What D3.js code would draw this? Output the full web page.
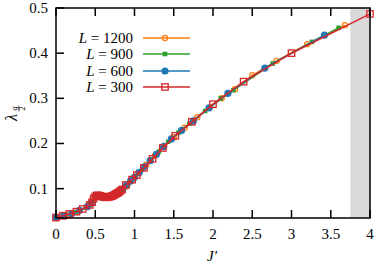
<!DOCTYPE html>
<html>
  <head>
    <script src="https://d3js.org/d3.v7.min.js"></script>
    <style>
      body { margin: 0; background: #fff; }
      text { font-family: "Liberation Serif", "DejaVu Serif", serif; fill: #000; }
    </style>
  </head>
  <body>
  <script>
  var width = 374, height = 265;
  var margin = {left: 56, right: 4, top: 8, bottom: 47};

  // series
  var j1200 = [0, 0.15, 0.3, 0.42, 0.5, 0.56, 0.64, 0.72, 0.8, 0.88, 0.96, 1.05, 1.15, 1.26, 1.38, 1.5, 1.64, 1.8, 1.96, 2.11, 2.28, 2.5, 2.81, 3.2, 3.68];
  var l1200 = [0.036, 0.042, 0.052, 0.063, 0.083, 0.085, 0.081, 0.084, 0.092, 0.104, 0.119, 0.134, 0.153, 0.173, 0.195, 0.214, 0.235, 0.258, 0.280, 0.300, 0.320, 0.351, 0.383, 0.420, 0.462];
  var j900 = [0, 0.12, 0.25, 0.38, 0.47, 0.53, 0.6, 0.68, 0.76, 0.84, 0.92, 1.01, 1.1, 1.2, 1.31, 1.43, 1.56, 1.7, 1.9, 2.1, 2.26, 2.76, 3.26, 3.6];
  var l900 = [0.036, 0.041, 0.048, 0.058, 0.072, 0.085, 0.082, 0.082, 0.088, 0.098, 0.111, 0.127, 0.143, 0.162, 0.182, 0.204, 0.224, 0.244, 0.272, 0.300, 0.318, 0.377, 0.425, 0.456];
  var j600 = [0, 0.1, 0.2, 0.3, 0.4, 0.45, 0.5, 0.55, 0.6, 0.65, 0.7, 0.75, 0.8, 0.85, 0.9, 0.95, 1.0, 1.06, 1.13, 1.2, 1.28, 1.37, 1.47, 1.6, 1.75, 1.95, 2.19, 2.66, 3.42];
  var l600 = [0.036, 0.040, 0.045, 0.052, 0.060, 0.068, 0.083, 0.085, 0.082, 0.081, 0.083, 0.087, 0.092, 0.099, 0.108, 0.117, 0.125, 0.136, 0.149, 0.162, 0.176, 0.193, 0.210, 0.229, 0.250, 0.279, 0.311, 0.367, 0.440];
  var j300 = [0, 0.09, 0.17, 0.26, 0.34, 0.43, 0.46, 0.48, 0.5, 0.52, 0.54, 0.56, 0.58, 0.6, 0.62, 0.64, 0.66, 0.68, 0.7, 0.72, 0.74, 0.76, 0.78, 0.8, 0.82, 0.84, 0.89, 0.97, 1.03, 1.12, 1.23, 1.36, 1.52, 1.73, 2.0, 2.39, 3.0, 4.0];
  var l300 = [0.036, 0.040, 0.044, 0.049, 0.055, 0.064, 0.070, 0.078, 0.083, 0.085, 0.085, 0.084, 0.083, 0.082, 0.081, 0.081, 0.081, 0.082, 0.083, 0.084, 0.086, 0.088, 0.090, 0.092, 0.095, 0.098, 0.108, 0.120, 0.130, 0.146, 0.166, 0.190, 0.217, 0.248, 0.287, 0.337, 0.400, 0.487];

  var xTicks = [0, 0.5, 1, 1.5, 2, 2.5, 3, 3.5, 4];
  var yTicks = [0.1, 0.2, 0.3, 0.4, 0.5];
  var band = [3.75, 4];

  var series = [
    {name: '1200', j: j1200, l: l1200, color: '#ff7f0e', mark: 'ocircle'},
    {name: '900', j: j900, l: l900, color: '#2ca02c', mark: 'fsquare'},
    {name: '600', j: j600, l: l600, color: '#1f77b4', mark: 'fcircle'},
    {name: '300', j: j300, l: l300, color: '#d62728', mark: 'osquare'}
  ];

  var svg = d3.select('body').append('svg')
      .attr('width', width)
      .attr('height', height);

  var x = d3.scaleLinear().domain([0, 4]).range([margin.left, width - margin.right]);
  var y = d3.scaleLinear().domain([0.035, 0.5]).range([height - margin.bottom, margin.top]);

  svg.append('rect')
      .attr('x', x(band[0])).attr('y', y(0.5))
      .attr('width', x(band[1]) - x(band[0]))
      .attr('height', y(0.035) - y(0.5))
      .attr('fill', '#d9d9d9');

  function drawMark(g, kind, color, cx, cy) {
    if (kind == 'ocircle') {
      g.append('circle').attr('cx', cx).attr('cy', cy).attr('r', 2.6)
        .attr('fill', 'none').attr('stroke', color).attr('stroke-width', 1.2);
    } else if (kind == 'fcircle') {
      g.append('circle').attr('cx', cx).attr('cy', cy).attr('r', 3.6).attr('fill', color);
    } else if (kind == 'fsquare') {
      g.append('rect').attr('x', cx - 2.3).attr('y', cy - 2.3).attr('width', 4.6).attr('height', 4.6).attr('fill', color);
    } else {
      g.append('rect').attr('x', cx - 3.2).attr('y', cy - 3.2).attr('width', 6.4).attr('height', 6.4)
        .attr('fill', 'none').attr('stroke', color).attr('stroke-width', 1.3);
    }
  }

  var line = d3.line().x(function(d) { return x(d[0]); }).y(function(d) { return y(d[1]); });

  series.forEach(function(s) {
    var pts = d3.zip(s.j, s.l);
    var g = svg.append('g');
    g.append('path').datum(pts)
      .attr('d', line)
      .attr('fill', 'none')
      .attr('stroke', s.color)
      .attr('stroke-width', 1.6);
    pts.forEach(function(p) { drawMark(g, s.mark, s.color, x(p[0]), y(p[1])); });
  });

  // frame and ticks
  var x0 = x(0), x1 = x(4), y0 = y(0.035), y1 = y(0.5);
  var axes = svg.append('g').attr('stroke', '#000').attr('stroke-width', 1.5);
  xTicks.forEach(function(t) {
    axes.append('line').attr('x1', x(t)).attr('x2', x(t)).attr('y1', y0).attr('y2', y0 - 8);
    axes.append('line').attr('x1', x(t)).attr('x2', x(t)).attr('y1', y1).attr('y2', y1 + 8);
  });
  yTicks.forEach(function(t) {
    axes.append('line').attr('x1', x0).attr('x2', x0 + 8).attr('y1', y(t)).attr('y2', y(t));
  });
  axes.append('rect').attr('x', x0).attr('y', y1).attr('width', x1 - x0).attr('height', y0 - y1).attr('fill', 'none');

  svg.selectAll('.xl').data(xTicks).enter().append('text')
      .attr('x', function(d) { return x(d); })
      .attr('y', y0 + 21)
      .attr('text-anchor', 'middle')
      .style('font-size', '15px')
      .text(function(d) { return d; });
  svg.selectAll('.yl').data(yTicks).enter().append('text')
      .attr('x', x0 - 8)
      .attr('y', function(d) { return y(d) + 5; })
      .attr('text-anchor', 'end')
      .style('font-size', '15px')
      .text(function(d) { return d.toFixed(1); });

  svg.append('text').attr('x', 212).attr('y', 261)
      .attr('text-anchor', 'middle').style('font-size', '15px').style('font-style', 'italic')
      .text('J\u2032');

  var yl = svg.append('g').attr('transform', 'translate(17,121) rotate(-90)');
  yl.append('text').attr('x', 0).attr('y', 0).style('font-size', '16px').style('font-style', 'italic').text('\u03bb');
  yl.append('text').attr('x', 12.5).attr('y', 0).attr('text-anchor', 'middle').style('font-size', '8px').style('font-style', 'italic').text('q');
  yl.append('line').attr('x1', 9.5).attr('x2', 15.5).attr('y1', 1.8).attr('y2', 1.8).attr('stroke', '#000').attr('stroke-width', 0.6);
  yl.append('text').attr('x', 12.5).attr('y', 8).attr('text-anchor', 'middle').style('font-size', '8px').text('2');

  // legend
  var legY = [38, 54, 71, 87];
  series.forEach(function(s, i) {
    var g = svg.append('g');
    var t = g.append('text').attr('x', 133).attr('y', legY[i] + 5)
      .attr('text-anchor', 'end').style('font-size', '15px');
    t.append('tspan').style('font-style', 'italic').text('L');
    t.append('tspan').text(' = ' + s.name);
    g.append('line').attr('x1', 143).attr('x2', 190).attr('y1', legY[i]).attr('y2', legY[i])
      .attr('stroke', s.color).attr('stroke-width', 1.6);
    drawMark(g, s.mark, s.color, 165, legY[i]);
  });
  </script>
  </body>
</html>
